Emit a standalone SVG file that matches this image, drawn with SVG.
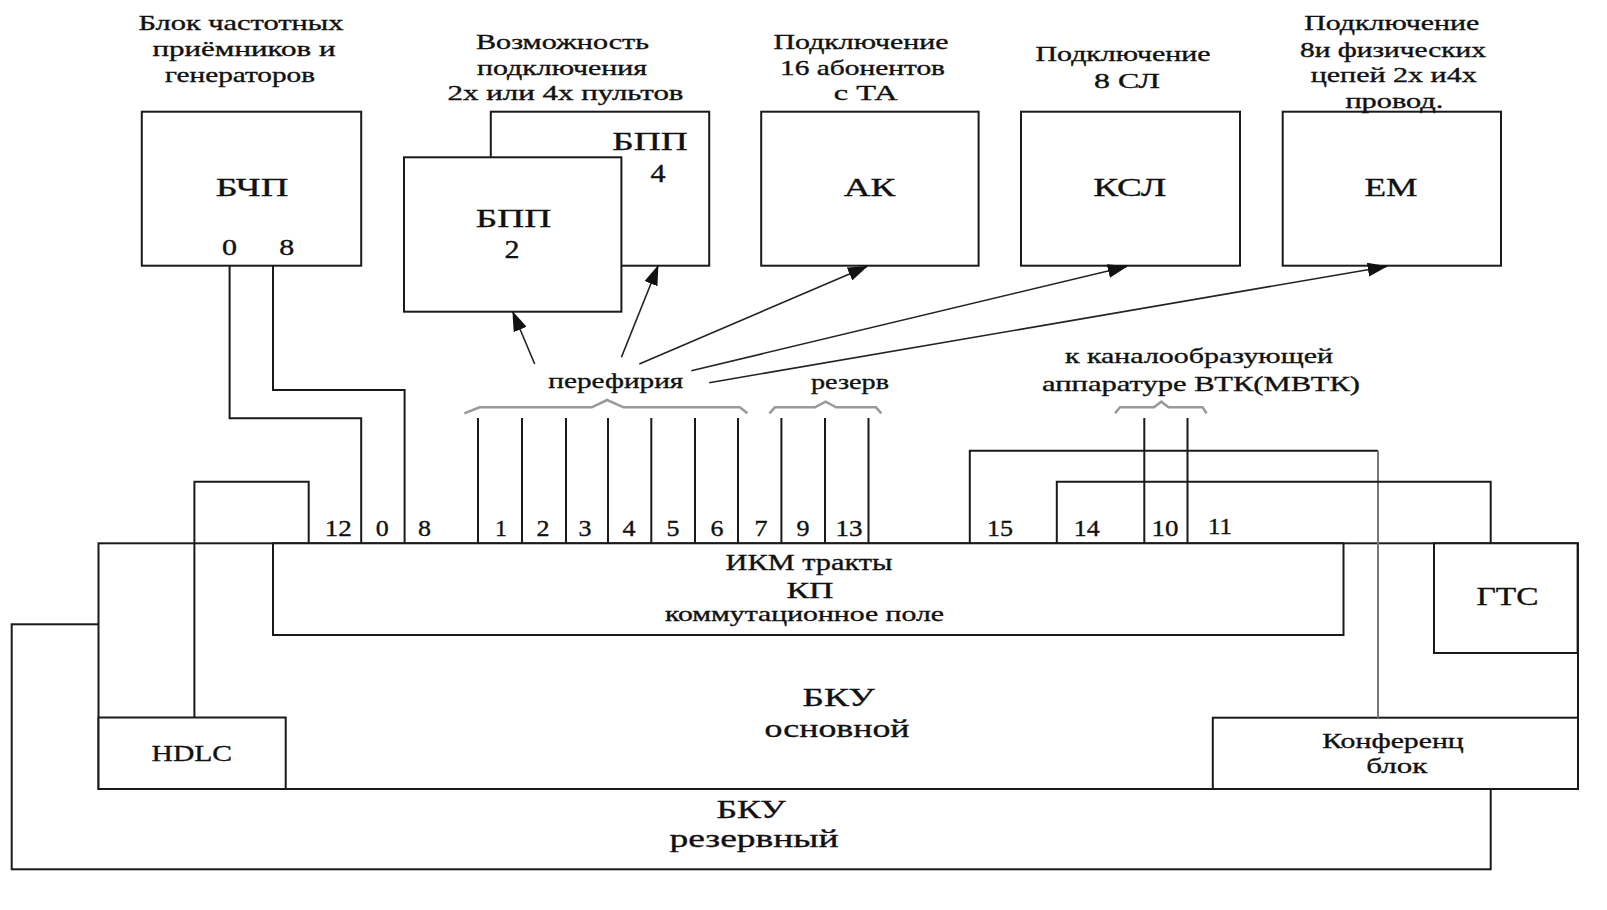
<svg xmlns="http://www.w3.org/2000/svg" width="1607" height="910" viewBox="0 0 1607 910">
<style>
text{font-family:"Liberation Serif","Times New Roman",serif;fill:#111;stroke:#111;stroke-width:0.35;text-anchor:middle}
.h{font-size:21px}
.t{font-size:26px}
.n{font-size:23px}
.box{fill:#fff;stroke:#1a1a1a;stroke-width:2}
.w{fill:none;stroke:#1a1a1a;stroke-width:2}
.g{fill:none;stroke:#777;stroke-width:2}
.br{fill:none;stroke:#999;stroke-width:2.5}
.ar{fill:none;stroke:#222;stroke-width:1.6}
</style>
<defs>
<marker id="ah" markerUnits="userSpaceOnUse" markerWidth="20" markerHeight="14" refX="19" refY="7" orient="auto">
<path d="M0,0 L20,7 L0,14 z" fill="#111"/>
</marker>
</defs>
<rect width="1607" height="910" fill="#fff"/>

<g id="bku-reserve">
<rect class="box" x="11.7" y="624.3" width="1479" height="245"/>
<text x="751" y="818" font-size="25" textLength="69" lengthAdjust="spacingAndGlyphs">БКУ</text>
<text x="754" y="847" font-size="25" textLength="169" lengthAdjust="spacingAndGlyphs">резервный</text>
</g>

<g id="bku-main">
<rect class="box" x="98.5" y="543.3" width="1479.5" height="245.7"/>
<text x="838.6" y="706" class="t" textLength="72" lengthAdjust="spacingAndGlyphs">БКУ</text>
<text x="837" y="737" class="t" textLength="145" lengthAdjust="spacingAndGlyphs">основной</text>
</g>

<g id="kp">
<rect class="box" x="273" y="543.3" width="1070.5" height="91.7"/>
<text x="809" y="570" font-size="24" textLength="167" lengthAdjust="spacingAndGlyphs">ИКМ тракты</text>
<text x="810" y="597.7" font-size="24" textLength="47" lengthAdjust="spacingAndGlyphs">КП</text>
<text x="804.5" y="621" font-size="21" textLength="279" lengthAdjust="spacingAndGlyphs">коммутационное поле</text>
</g>

<g id="gts">
<rect class="box" x="1434" y="543.3" width="143.6" height="109.7"/>
<text x="1507.5" y="605" font-size="25" textLength="62" lengthAdjust="spacingAndGlyphs">ГТС</text>
</g>

<g id="hdlc">
<rect class="box" x="98.5" y="717.5" width="187.2" height="71.5"/>
<text x="191.8" y="761" font-size="24" textLength="80.6" lengthAdjust="spacingAndGlyphs">HDLC</text>
</g>

<g id="conf">
<rect class="box" x="1212.8" y="717.7" width="365.2" height="71.3"/>
<text x="1393" y="748" font-size="22" textLength="141.5" lengthAdjust="spacingAndGlyphs">Конференц</text>
<text x="1396.7" y="772.7" font-size="22" textLength="61" lengthAdjust="spacingAndGlyphs">блок</text>
</g>

<g id="bchp">
<rect class="box" x="141.8" y="111.7" width="219.4" height="154"/>
<text x="252" y="196" class="t" textLength="72.5" lengthAdjust="spacingAndGlyphs">БЧП</text>
<text x="229.6" y="255" class="n" textLength="15" lengthAdjust="spacingAndGlyphs">0</text>
<text x="286.7" y="255" class="n" textLength="15" lengthAdjust="spacingAndGlyphs">8</text>
<text x="241" y="29.5" class="h" textLength="205" lengthAdjust="spacingAndGlyphs">Блок частотных</text>
<text x="244" y="55.5" class="h" textLength="183" lengthAdjust="spacingAndGlyphs">приёмников и</text>
<text x="240" y="81.7" class="h" textLength="150" lengthAdjust="spacingAndGlyphs">генераторов</text>
</g>

<g id="bpp4">
<rect class="box" x="490.8" y="111.7" width="218.4" height="154"/>
<text x="650" y="150" class="t" textLength="75.5" lengthAdjust="spacingAndGlyphs">БПП</text>
<text x="658" y="181.7" font-size="25" textLength="15" lengthAdjust="spacingAndGlyphs">4</text>
</g>

<g id="bpp2">
<rect class="box" x="404" y="157.3" width="217.4" height="154.4"/>
<text x="513.5" y="226.7" class="t" textLength="75.5" lengthAdjust="spacingAndGlyphs">БПП</text>
<text x="512" y="258.3" font-size="25" textLength="15" lengthAdjust="spacingAndGlyphs">2</text>
<text x="562.5" y="49" class="h" textLength="173" lengthAdjust="spacingAndGlyphs">Возможность</text>
<text x="562" y="75" class="h" textLength="170" lengthAdjust="spacingAndGlyphs">подключения</text>
<text x="565.5" y="100" class="h" textLength="236" lengthAdjust="spacingAndGlyphs">2х или 4х пультов</text>
</g>

<g id="ak">
<rect class="box" x="761.2" y="111.7" width="217.4" height="154"/>
<text x="869.5" y="196" class="t" textLength="51.5" lengthAdjust="spacingAndGlyphs">АК</text>
<text x="861" y="49" class="h" textLength="175" lengthAdjust="spacingAndGlyphs">Подключение</text>
<text x="862.5" y="75" class="h" textLength="165" lengthAdjust="spacingAndGlyphs">16 абонентов</text>
<text x="865.7" y="100" class="h" textLength="64" lengthAdjust="spacingAndGlyphs">с ТА</text>
</g>

<g id="ksl">
<rect class="box" x="1021" y="111.7" width="219" height="154"/>
<text x="1129.7" y="196" class="t" textLength="73" lengthAdjust="spacingAndGlyphs">КСЛ</text>
<text x="1123" y="61" class="h" textLength="175" lengthAdjust="spacingAndGlyphs">Подключение</text>
<text x="1127" y="87.7" class="h" textLength="66" lengthAdjust="spacingAndGlyphs">8 СЛ</text>
</g>

<g id="em">
<rect class="box" x="1282.7" y="111.7" width="218.3" height="154"/>
<text x="1391" y="196" class="t" textLength="53" lengthAdjust="spacingAndGlyphs">ЕМ</text>
<text x="1391.7" y="30" class="h" textLength="175" lengthAdjust="spacingAndGlyphs">Подключение</text>
<text x="1393" y="56.7" class="h" textLength="186" lengthAdjust="spacingAndGlyphs">8и физических</text>
<text x="1393.7" y="81.7" class="h" textLength="166" lengthAdjust="spacingAndGlyphs">цепей 2х и4х</text>
<text x="1394.4" y="107.7" class="h" textLength="98" lengthAdjust="spacingAndGlyphs">провод.</text>
</g>

<g id="connectors">
<path class="w" d="M229.6,265.7 V418.3 H361.2 V543.3"/>
<path class="w" d="M273,265.7 V390 H404.6 V543.3"/>
<path class="w" d="M194.4,717.5 V481.7 H308.7 V543.3"/>
<path class="w" d="M478,418 V543.3 M522,418 V543.3 M566,418 V543.3 M608,418 V543.3 M651.3,418 V543.3 M695,418 V543.3 M738,418 V543.3 M781.4,418 V543.3 M825,418 V543.3 M868.5,418 V543.3"/>
<path class="w" d="M969.8,543.3 V450.7 H1378"/>
<path class="g" d="M1378,450.7 V717.7"/>
<path class="w" d="M1056.8,543.3 V481.7 H1490.7 V543.3"/>
<path class="w" d="M1144.3,418 V543.3 M1187.5,418 V543.3"/>
<path class="br" d="M464.3,413.3 L479.6,407.3 H591.8 L607.1,400 L623.5,407.3 H739.8 L747.4,413.3"/>
<path class="br" d="M769.4,413.3 L775,407.3 H815 L825.7,401.7 L836,407.3 H876 L881.3,413.3"/>
<path class="br" d="M1115,413.3 L1120,407.3 H1154 L1161.3,401.7 L1168.5,407.3 H1202.5 L1206.6,413.3"/>
<line class="ar" x1="534.7" y1="364" x2="512.8" y2="312" marker-end="url(#ah)"/>
<line class="ar" x1="621.4" y1="357.3" x2="658" y2="266" marker-end="url(#ah)"/>
<line class="ar" x1="639.3" y1="364" x2="867" y2="266.5" marker-end="url(#ah)"/>
<line class="ar" x1="691.3" y1="370.7" x2="1126.8" y2="266.5" marker-end="url(#ah)"/>
<line class="ar" x1="709.2" y1="382.7" x2="1386.7" y2="266.5" marker-end="url(#ah)"/>
</g>

<g id="labels">
<text x="615.8" y="388.3" font-size="22" textLength="135" lengthAdjust="spacingAndGlyphs">перефирия</text>
<text x="850" y="389" font-size="22" textLength="78" lengthAdjust="spacingAndGlyphs">резерв</text>
<text x="1199" y="363" font-size="22" textLength="268" lengthAdjust="spacingAndGlyphs">к каналообразующей</text>
<text x="1201" y="390.7" font-size="22" textLength="318" lengthAdjust="spacingAndGlyphs">аппаратуре ВТК(МВТК)</text>
</g>

<g id="ports">
<text class="n" x="338.3" y="536" textLength="27" lengthAdjust="spacingAndGlyphs">12</text>
<text class="n" x="382.3" y="536" textLength="13" lengthAdjust="spacingAndGlyphs">0</text>
<text class="n" x="424.4" y="536" textLength="13" lengthAdjust="spacingAndGlyphs">8</text>
<text class="n" x="501" y="536" textLength="12" lengthAdjust="spacingAndGlyphs">1</text>
<text class="n" x="543" y="536" textLength="13" lengthAdjust="spacingAndGlyphs">2</text>
<text class="n" x="585" y="536" textLength="13" lengthAdjust="spacingAndGlyphs">3</text>
<text class="n" x="629" y="536" textLength="13" lengthAdjust="spacingAndGlyphs">4</text>
<text class="n" x="673" y="536" textLength="13" lengthAdjust="spacingAndGlyphs">5</text>
<text class="n" x="717" y="536" textLength="13" lengthAdjust="spacingAndGlyphs">6</text>
<text class="n" x="761" y="536" textLength="13" lengthAdjust="spacingAndGlyphs">7</text>
<text class="n" x="803" y="536" textLength="13" lengthAdjust="spacingAndGlyphs">9</text>
<text class="n" x="849" y="536" textLength="27" lengthAdjust="spacingAndGlyphs">13</text>
<text class="n" x="1000" y="536" textLength="26" lengthAdjust="spacingAndGlyphs">15</text>
<text class="n" x="1086.7" y="536" textLength="26" lengthAdjust="spacingAndGlyphs">14</text>
<text class="n" x="1165" y="536" textLength="27" lengthAdjust="spacingAndGlyphs">10</text>
<text class="n" x="1220" y="533.5" textLength="24" lengthAdjust="spacingAndGlyphs">11</text>
</g>
</svg>
